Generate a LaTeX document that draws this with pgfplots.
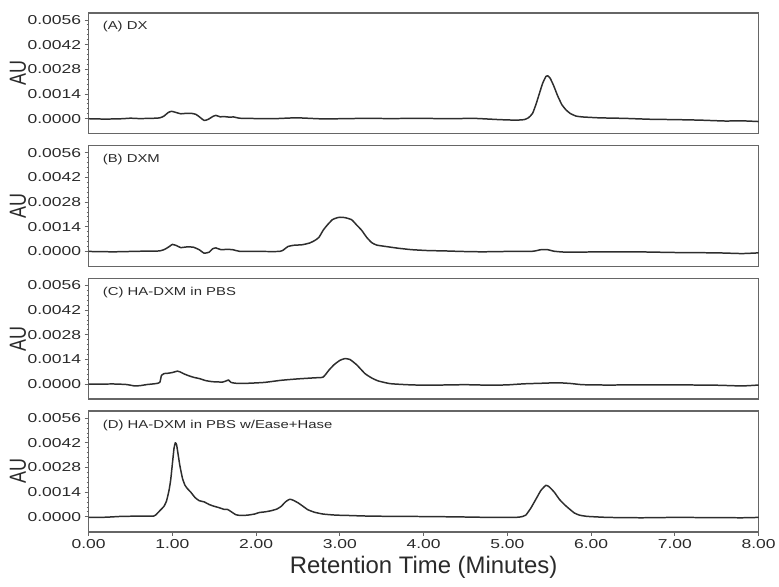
\documentclass[border=0pt]{standalone}
\usepackage{fontspec}
\setmainfont{Liberation Sans}
\newfontfamily\tickfont[FakeStretch=1.35]{Liberation Sans}
\newfontfamily\labfont[FakeStretch=1.3]{Liberation Sans}
\usepackage{graphicx}
\usepackage{pgfplots}
\pgfplotsset{compat=1.18}
\usepgfplotslibrary{groupplots}

\definecolor{framegray}{HTML}{666666}
\definecolor{ticktext}{HTML}{2A2A2A}
\definecolor{linegray}{HTML}{2E2E2E}

\pgfplotsset{panel/.style={
    width=673pt, height=121.3pt, scale only axis,
    xmin=0, xmax=8, ymin=-0.00085, ymax=0.006,
    xtick={0,1,...,8},
    xticklabels={0.00,1.00,2.00,3.00,4.00,5.00,6.00,7.00,8.00},
    ytick={0,0.0014,0.0028,0.0042,0.0056},
    yticklabels={0.0000,0.0014,0.0028,0.0042,0.0056},
    scaled y ticks=false, scaled x ticks=false,
    minor y tick num=4,
    tick align=outside, ytick pos=left, xtick pos=bottom,
    axis line style={draw=framegray, line width=1.4pt},
    major tick length=4pt, minor tick length=2pt,
    every tick/.style={framegray, line width=0.9pt},
    tick label style={font=\tickfont\fontsize{13}{13}\selectfont, text=ticktext},
    clip=false,
  },
  trace/.style={draw=linegray, line width=1.5pt, line join=round, mark=none, smooth, tension=0.3},
}

\newcommand{\aulabel}{\node[rotate=90, text=ticktext, font=\fontsize{18}{18}\selectfont]
  at ([xshift=-71pt]rel axis cs:0,0.5) {\scalebox{1}[1.3]{AU}};}
\newcommand{\panellabel}[1]{\node[anchor=west, text=ticktext, font=\labfont\fontsize{11.5}{11.5}\selectfont]
  at (rel axis cs:0.016,0.884) {#1};}

\begin{document}
\begin{tikzpicture}
\begin{groupplot}[group style={group size=1 by 4, vertical sep=12pt}, panel]

% (A) DX
\nextgroupplot[xtick=\empty]
\addplot[trace] coordinates {(0,0) (0.2,-0.00002) (0.4,0) (0.5,0.00003) (0.6,0.00001) (0.75,0.00002)
 (0.85,0.00005) (0.9,0.00015) (0.95,0.00035) (0.99,0.00042) (1.04,0.00036) (1.1,0.00028)
 (1.15,0.0003) (1.22,0.00031) (1.28,0.00025) (1.33,0.00008) (1.38,-0.0001) (1.43,-0.00003)
 (1.48,0.00012) (1.52,0.00019) (1.57,0.00011) (1.62,0.00012) (1.68,0.00009) (1.73,0.0001)
 (1.8,0.00003) (1.9,0.00002) (2.0,0.00001) (2.2,0) (2.4,0.00004) (2.5,0.00005) (2.6,0.00003)
 (2.8,-0.00001) (3.0,0) (3.3,0.00002) (3.6,0.00001) (4.0,0.00002) (4.3,0) (4.6,0.00002)
 (4.9,-0.00005) (5.1,-0.00008) (5.2,-0.00005) (5.25,0.00005) (5.3,0.0003) (5.34,0.0008)
 (5.38,0.0014) (5.42,0.002) (5.46,0.0024) (5.48,0.00244) (5.51,0.0023) (5.55,0.0019)
 (5.6,0.0013) (5.65,0.0008) (5.7,0.0005) (5.75,0.0003) (5.82,0.00015) (5.9,0.0001)
 (6.1,0.00005) (6.4,0.00002) (6.7,-0.00003) (7.0,-0.00005) (7.3,-0.00008) (7.6,-0.00013)
 (7.8,-0.00012) (8.0,-0.00016)};
\aulabel
\panellabel{(A) DX}

% (B) DXM
\nextgroupplot[xtick=\empty]
\addplot[trace] coordinates {(0,0) (0.3,-0.00002) (0.6,0.00001) (0.85,0.00003) (0.92,0.00015)
 (0.97,0.0003) (1.0,0.0004) (1.05,0.00033) (1.1,0.00022) (1.18,0.00026) (1.25,0.00024)
 (1.32,0.0001) (1.38,-0.0001) (1.44,-0.00004) (1.48,0.00015) (1.52,0.0002) (1.58,0.0001)
 (1.65,0.00012) (1.72,0.0001) (1.8,0.00001) (2.0,0) (2.28,0) (2.33,0.0001) (2.38,0.00028)
 (2.45,0.00035) (2.55,0.00038) (2.64,0.00048) (2.7,0.00062) (2.75,0.0008) (2.8,0.0012)
 (2.85,0.0015) (2.91,0.0018) (2.96,0.0019) (3.0,0.00194) (3.06,0.00192) (3.14,0.0018)
 (3.2,0.0015) (3.26,0.0012) (3.32,0.0008) (3.38,0.0005) (3.44,0.00036) (3.55,0.00028)
 (3.7,0.00018) (3.86,0.0001) (4.05,0.00005) (4.25,0.00003) (4.45,0) (4.7,-0.00002)
 (5.0,0) (5.3,0.00001) (5.4,0.0001) (5.48,0.0001) (5.56,0.00001) (5.7,-0.00004)
 (6.0,-0.00003) (6.5,-0.00002) (7.0,-0.00006) (7.5,-0.00008) (7.8,-0.00012) (8.0,-0.00008)};
\aulabel
\panellabel{(B) DXM}

% (C) HA-DXM in PBS
\nextgroupplot[xtick=\empty]
\addplot[trace] coordinates {(0,0) (0.3,0.00001) (0.45,-0.00002) (0.55,-0.0001) (0.62,-0.00008)
 (0.7,-0.00002) (0.8,0.00003) (0.85,0.0001) (0.87,0.0005) (0.9,0.0006) (0.95,0.00062)
 (1.0,0.00066) (1.06,0.00074) (1.09,0.0007) (1.14,0.00058) (1.2,0.00047) (1.26,0.00038)
 (1.32,0.00032) (1.4,0.0002) (1.48,0.00014) (1.6,0.00012) (1.65,0.0002) (1.67,0.00024)
 (1.7,0.0001) (1.76,0.00005) (1.9,0.00005) (2.1,0.0001) (2.3,0.00022) (2.5,0.0003)
 (2.7,0.00036) (2.8,0.0004) (2.87,0.0008) (2.93,0.0011) (3.0,0.00135) (3.06,0.00145)
 (3.12,0.0014) (3.2,0.0011) (3.3,0.0006) (3.38,0.00035) (3.46,0.00018) (3.6,0.00003)
 (3.8,-0.00003) (4.0,-0.00006) (4.2,-0.00005) (4.5,-0.00003) (4.8,-0.00006) (5.0,-0.00004)
 (5.2,0.00002) (5.4,0.00005) (5.6,0.00008) (5.75,0.00004) (5.9,-0.00003) (6.2,-0.00005)
 (6.5,-0.00004) (7.0,-0.00004) (7.5,-0.00006) (7.8,-0.0001) (8.0,-0.00005)};
\aulabel
\panellabel{(C) HA-DXM in PBS}

% (D) HA-DXM in PBS w/Ease+Hase
\nextgroupplot[xlabel={Retention Time (Minutes)},
  xlabel style={at={(rel axis cs:0.5,0)}, anchor=center, yshift=-36pt,
    font=\fontsize{24}{24}\selectfont, text=ticktext}]
\addplot[trace] coordinates {(0,-0.00003) (0.2,-0.00002) (0.4,0.00003) (0.6,0.00004) (0.78,0.00005)
 (0.82,0.0002) (0.86,0.0004) (0.9,0.0006) (0.93,0.0009) (0.96,0.0015) (0.98,0.0021)
 (1.0,0.003) (1.02,0.0039) (1.035,0.0042) (1.05,0.0041) (1.07,0.0035) (1.09,0.0029)
 (1.12,0.0022) (1.15,0.0018) (1.18,0.0016) (1.22,0.0014) (1.27,0.0011) (1.32,0.00092)
 (1.38,0.00085) (1.44,0.0007) (1.5,0.0006) (1.56,0.00052) (1.62,0.00042) (1.66,0.00042)
 (1.7,0.0003) (1.76,0.00012) (1.82,0.00008) (1.9,0.0001) (1.98,0.00016) (2.04,0.00025)
 (2.1,0.00028) (2.18,0.00035) (2.25,0.00045) (2.3,0.0006) (2.35,0.00085) (2.4,0.001)
 (2.44,0.00095) (2.5,0.0008) (2.56,0.0006) (2.62,0.0004) (2.7,0.00026) (2.8,0.00016)
 (2.95,0.0001) (3.1,0.00008) (3.3,0.00005) (3.6,0.00003) (4.0,0.00002) (4.4,0)
 (4.8,-0.00003) (5.1,-0.00003) (5.18,0.00002) (5.22,0.0001) (5.28,0.0005) (5.34,0.001)
 (5.4,0.0015) (5.46,0.00179) (5.5,0.0017) (5.56,0.0014) (5.62,0.001) (5.68,0.0007)
 (5.74,0.00045) (5.8,0.00022) (5.86,0.0001) (5.95,0.00003) (6.2,-0.00003) (6.6,-0.00005)
 (7.0,-0.00003) (7.4,-0.00004) (7.8,-0.00005) (8.0,-0.00003)};
\aulabel
\panellabel{(D) HA-DXM in PBS w/Ease+Hase}

\end{groupplot}
\path (group c1r1.north west) ++(-89pt,13pt) rectangle ++(779pt,-589pt);
\end{tikzpicture}
\end{document}
